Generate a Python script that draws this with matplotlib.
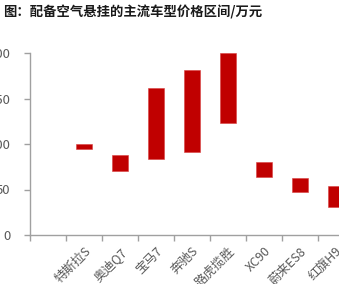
import numpy as np
import matplotlib
matplotlib.use("Agg")
import matplotlib.pyplot as plt
from matplotlib.ticker import FixedLocator

plt.rcParams["font.family"] = ["Noto Sans CJK SC", "DejaVu Sans"]

# price range per model, 万元 (first slot is empty in the source chart)
models = ["", "特斯拉S", "奥迪Q7", "宝马7", "奔驰S", "路虎揽胜", "XC90", "蔚来ES8", "红旗H9"]
price_low = [np.nan, 94, 70, 83, 91.5, 122.8, 63.9, 46.8, 31]
price_high = [np.nan, 100, 87.9, 161, 181, 200, 80.5, 62.4, 54]
yticks = [0, 50, 100, 150, 200]

W, H = 339, 284
fig = plt.figure(figsize=(W / 100, H / 100), dpi=100)

# plot area runs past the right edge, as in the cropped source
ax = fig.add_axes([30 / W, (H - 235) / H, 360 / W, 182 / H])

x = np.arange(len(models))
low = np.array(price_low)
high = np.array(price_high)
ax.bar(x, high - low, bottom=low, width=0.43, color="#C00000",
       edgecolor="#D84040", linewidth=0.4)

ax.set_xlim(-0.5, 9.5)
ax.set_ylim(0, 200)

axis_grey = "#A0A0A0"
text_grey = "#595959"
for side in ["top", "right"]:
    ax.spines[side].set_visible(False)
for side in ["left", "bottom"]:
    ax.spines[side].set_color(axis_grey)
    ax.spines[side].set_linewidth(1.0)

ax.set_yticks(yticks)
ax.set_yticklabels([str(v) for v in yticks])
ax.tick_params(axis="y", direction="out", length=4, width=1.0, color=axis_grey,
               labelcolor=text_grey, labelsize=9.5, pad=10)

# category labels at centres, tick marks at the boundaries
ax.set_xticks(x)
ax.set_xticklabels(models, rotation=45, ha="right", va="top",
                   rotation_mode="anchor")
ax.tick_params(axis="x", which="major", length=0, labelcolor=text_grey,
               labelsize=9, pad=7)
ax.xaxis.set_minor_locator(FixedLocator(np.arange(-0.5, 10, 1)))
ax.tick_params(axis="x", which="minor", direction="out", length=4, width=1.0,
               color=axis_grey)

fig.text(3 / W, 1 - 12.5 / H, "图：配备空气悬挂的主流车型价格区间/万元",
         fontsize=9.6, fontweight="bold", color="#1a1a1a", ha="left", va="center")

fig.savefig("out.png", dpi=100)
